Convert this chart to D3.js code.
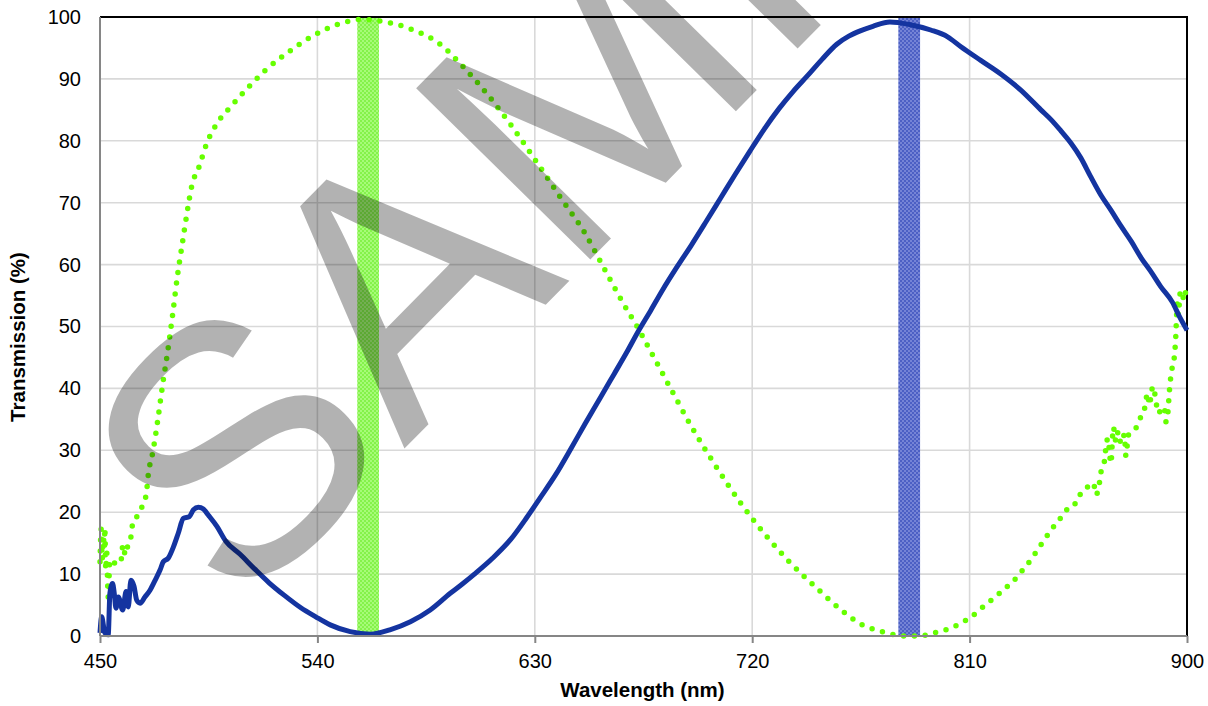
<!DOCTYPE html>
<html>
<head>
<meta charset="utf-8">
<script src="https://cdn.jsdelivr.net/npm/d3@7"></script>
<style>
  body { margin: 0; background: #fff; }
  svg { display: block; font-family: Arial, "Liberation Sans", sans-serif; }
</style>
</head>
<body>
<div class="container"></div>
<script>
// wavelength (nm) / transmission (%)
var blueWl = [450, 450.7, 452, 453.4, 454.1, 455.2, 455.9, 456.6, 457.6, 459.4, 460.8, 461.7, 462.8, 464.1, 465.2,
  466.6, 468.6, 470.7, 472.8, 474.9, 476.2, 478.3, 480.4, 482.4, 484.5, 487, 488.7, 490.7, 492.8, 494.9,
  498.4, 502.1, 508, 514.1, 520, 526.2, 533, 539.3, 545.3, 553.6, 562, 570, 578.5, 586.7, 595, 600,
  605, 612.6, 620, 626.6, 632, 638.7, 645, 650.7, 657, 662.8, 668, 672.8, 678, 682.9, 689, 694.9,
  701, 707, 713, 719, 725, 731.1, 737, 743.1, 749, 755, 760, 765, 770, 777, 785, 793.9,
  800.9, 806.4, 814.6, 822.9, 831.2, 839.5, 844, 847.8, 852, 856.1, 860, 864.4, 868.5, 872.7, 877, 881,
  885, 889.2, 894, 897, 900];
var blueT = [0.5, 3.1, 0.5, 0.2, 6.9, 8.5, 6.9, 4.5, 6.3, 4.2, 7.2, 4.7, 9, 8, 5.8,
  5.3, 6.3, 7.4, 9, 10.7, 12, 12.6, 14.4, 16.6, 19, 19.3, 20.4, 20.8, 20.5, 19.5,
  17.7, 15.3, 13.2, 10.8, 8.6, 6.6, 4.6, 3.1, 1.8, 0.7, 0.3, 1.0, 2.3, 4.2, 6.9, 8.4,
  10, 12.6, 15.6, 19.1, 22.2, 26.1, 30.3, 34.2, 38.4, 42.3, 45.8, 49.2, 52.6, 55.9, 59.7, 63.2,
  67, 70.8, 74.6, 78.3, 81.9, 85.2, 88, 90.6, 93.2, 95.6, 96.9, 97.8, 98.5, 99.2, 98.8, 97.9,
  96.8, 95.2, 93.0, 90.8, 88.2, 85.0, 83.3, 81.6, 79.6, 77.2, 74.3, 71.2, 68.8, 66.2, 63.7, 61.1,
  58.9, 56.4, 53.9, 51.5, 49.4];

var greenWl = [450, 450.5, 450.9, 451.4, 451.8, 452, 452.4, 452.8, 453.2, 453.4, 454.1, 455.9, 458.7, 459,
  459.7, 460.4, 461.7, 463.1, 463.5, 465.5, 467.4, 469.1, 470, 472, 474, 476, 478, 480, 482, 484, 486,
  488, 491.1, 494, 498.1, 504.1, 510.1, 518.2, 528.2, 538.3, 548.3, 558.4, 568.4, 578.4, 590.5, 600.5,
  610.6, 620.6, 630.7, 640.7, 650.7, 658.8, 666.8, 672.8, 678.9, 686.9, 694.9, 705, 715, 725.1, 735.1,
  747.1, 757.2, 765.6, 770.2, 774.6, 779.1, 784, 788.8, 793.5, 798, 802.5, 806.8, 810.1, 813.7, 817.4,
  821.2, 824.7, 828.2, 831.2, 834, 839.5, 843.7, 849.2, 852, 854, 856.1, 858.9, 861.3, 862.3, 863.7,
  864.4, 865.8, 866.3, 867.2, 868.5, 869.5, 870.6, 871.5, 872.7, 874.1, 874.7, 875.2, 875.7, 878.9,
  880.9, 882.3, 883.7, 884.4, 885.1, 885.8, 887.2, 887.9, 890.6, 891.3, 892, 892.7, 893.1, 893.7,
  894.5, 895, 895.3, 895.5, 896, 896.4, 897.2, 898.2, 898.9, 900];
var greenT = [12, 17.3, 12.4, 15.8, 14.2, 17.4, 10.7, 13.4, 8, 6.3, 12.3, 11.8, 11.8, 13.5,
  14.7, 13.1, 14.9, 16.6, 18.3, 19.4, 20.9, 22.8, 26.1, 30, 35.1, 40.8, 45.9, 51.7, 58, 63.2, 68.3,
  72.7, 75.9, 79.4, 82.6, 85.5, 88.1, 91.3, 94.4, 97, 98.8, 99.6, 99.2, 98.1, 95.7, 91.9,
  87.4, 82.3, 76.6, 70.8, 65.1, 59.3, 53.6, 49.7, 45.3, 39.5, 33.8, 27.4, 21.6, 16.5, 12.1,
  7.6, 4.1, 1.8, 1.1, 0.6, 0.2, 0, 0, 0.3, 0.8, 1.3, 2.2, 2.9, 4.1, 5.3,
  6.5, 7.7, 8.9, 10.3, 11.6, 14.7, 17.1, 19.8, 21.2, 21.4, 23.1, 24.1, 24.7, 22.8, 24.6,
  26.5, 28.2, 30, 31.9, 27.9, 33.7, 31.4, 33, 31.1, 32.5, 29.1, 30.6, 32.4, 33.6,
  35.4, 36.5, 39.2, 37.3, 38.7, 40.3, 37.9, 36, 37, 34.6, 35.7, 39.5, 41.2, 43,
  44.2, 46.2, 47.9, 49.9, 53.7, 51.9, 55.4, 54.3, 55.9, 54];

// marked bands (nm)
var bandFrom = [556.5, 780.5];
var bandTo = [565.5, 789.5];
var bandPattern = ['greenCheck', 'blueCheck'];

var xTicks = [450, 540, 630, 720, 810, 900];
var yTicks = [0, 10, 20, 30, 40, 50, 60, 70, 80, 90, 100];

const WIDTH = 1208;
const HEIGHT = 706;
const LEFT = 100, TOP = 17, RIGHT = 1187, BOTTOM = 636;

var svg = d3.select('.container').append('svg')
  .attr('width', WIDTH)
  .attr('height', HEIGHT);

var xScale = d3.scaleLinear().domain([450, 900]).range([LEFT, RIGHT]);
var yScale = d3.scaleLinear().domain([0, 100]).range([BOTTOM, TOP]);

// checkered fills for the bands
var defs = svg.append('defs');
function checker(id, c1, c2){
  var p = defs.append('pattern').attr('id', id)
    .attr('patternUnits', 'userSpaceOnUse')
    .attr('width', 4).attr('height', 4);
  p.append('rect').attr('width', 4).attr('height', 4).attr('fill', c1);
  p.append('rect').attr('width', 2).attr('height', 2).attr('fill', c2);
  p.append('rect').attr('x', 2).attr('y', 2).attr('width', 2).attr('height', 2).attr('fill', c2);
}
checker('greenCheck', '#a6fb78', '#84f24a');
checker('blueCheck', '#7584d6', '#4c60c4');

// grid
svg.append('g').selectAll('line').data(yTicks.slice(1, -1))
  .enter().append('line')
  .attr('x1', LEFT).attr('x2', RIGHT)
  .attr('y1', function(d){ return yScale(d); })
  .attr('y2', function(d){ return yScale(d); })
  .attr('stroke', '#d9d9d9').attr('stroke-width', 1.6);

svg.append('g').selectAll('line').data(xTicks.slice(1, -1))
  .enter().append('line')
  .attr('y1', TOP).attr('y2', BOTTOM)
  .attr('x1', function(d){ return xScale(d); })
  .attr('x2', function(d){ return xScale(d); })
  .attr('stroke', '#d9d9d9').attr('stroke-width', 1.6);

// bands
svg.append('g').selectAll('rect').data(bandFrom)
  .enter().append('rect')
  .attr('x', function(d){ return xScale(d); })
  .attr('width', function(d, i){ return xScale(bandTo[i]) - xScale(d); })
  .attr('y', TOP).attr('height', BOTTOM - TOP)
  .attr('fill', function(d, i){ return 'url(#' + bandPattern[i] + ')'; });

// top and right frame
svg.append('path')
  .attr('d', 'M' + LEFT + ',' + TOP + 'H' + RIGHT + 'V' + BOTTOM)
  .attr('fill', 'none').attr('stroke', '#000').attr('stroke-width', 2);

var line = d3.line()
  .x(function(d){ return xScale(d[0]); })
  .y(function(d){ return yScale(d[1]); })
  .curve(d3.curveMonotoneX);

// green dotted curve
svg.append('path')
  .datum(d3.zip(greenWl, greenT))
  .attr('d', line)
  .attr('fill', 'none')
  .attr('stroke', '#66ff00')
  .attr('stroke-width', 5.5)
  .attr('stroke-linecap', 'round')
  .attr('stroke-dasharray', '0,10.8');

// blue curve
svg.append('path')
  .datum(d3.zip(blueWl, blueT))
  .attr('d', line)
  .attr('fill', 'none')
  .attr('stroke', '#1434a0')
  .attr('stroke-width', 5)
  .attr('stroke-linejoin', 'round');

// axes
var xAxis = d3.axisBottom(xScale).tickValues(xTicks).tickSize(7).tickPadding(11);
var yAxis = d3.axisLeft(yScale).tickValues(yTicks).tickSize(0).tickPadding(19);

var gx = svg.append('g')
  .attr('transform', 'translate(0,' + BOTTOM + ')')
  .call(xAxis);
var gy = svg.append('g')
  .attr('transform', 'translate(' + LEFT + ',0)')
  .call(yAxis);

[gx, gy].forEach(function(g){
  g.select('.domain').attr('stroke', '#868686').attr('stroke-width', 2);
  g.selectAll('.tick line').attr('stroke', '#868686').attr('stroke-width', 2);
  g.selectAll('.tick text').attr('fill', '#000')
    .style('font-size', '20px').style('font-family', 'Arial, "Liberation Sans", sans-serif');
});
gx.select('.domain').attr('d', 'M' + LEFT + ',0H' + RIGHT);
gy.select('.domain').attr('d', 'M0,' + TOP + 'V' + BOTTOM);

svg.append('text')
  .attr('x', (LEFT + RIGHT) / 2 - 1).attr('y', 697)
  .attr('text-anchor', 'middle')
  .style('font-size', '20.5px').style('font-weight', 'bold')
  .text('Wavelength (nm)');

svg.append('text')
  .attr('transform', 'translate(25,337) rotate(-90)')
  .attr('text-anchor', 'middle')
  .style('font-size', '20.5px').style('font-weight', 'bold')
  .text('Transmission (%)');

// watermark, runs off the top edge as in the original
svg.append('text')
  .attr('transform', 'translate(238,618) rotate(-45.5)')
  .attr('fill', '#000').attr('fill-opacity', 0.3)
  .style('font-size', '355px')
  .text('SAMPLE');
</script>
</body>
</html>
